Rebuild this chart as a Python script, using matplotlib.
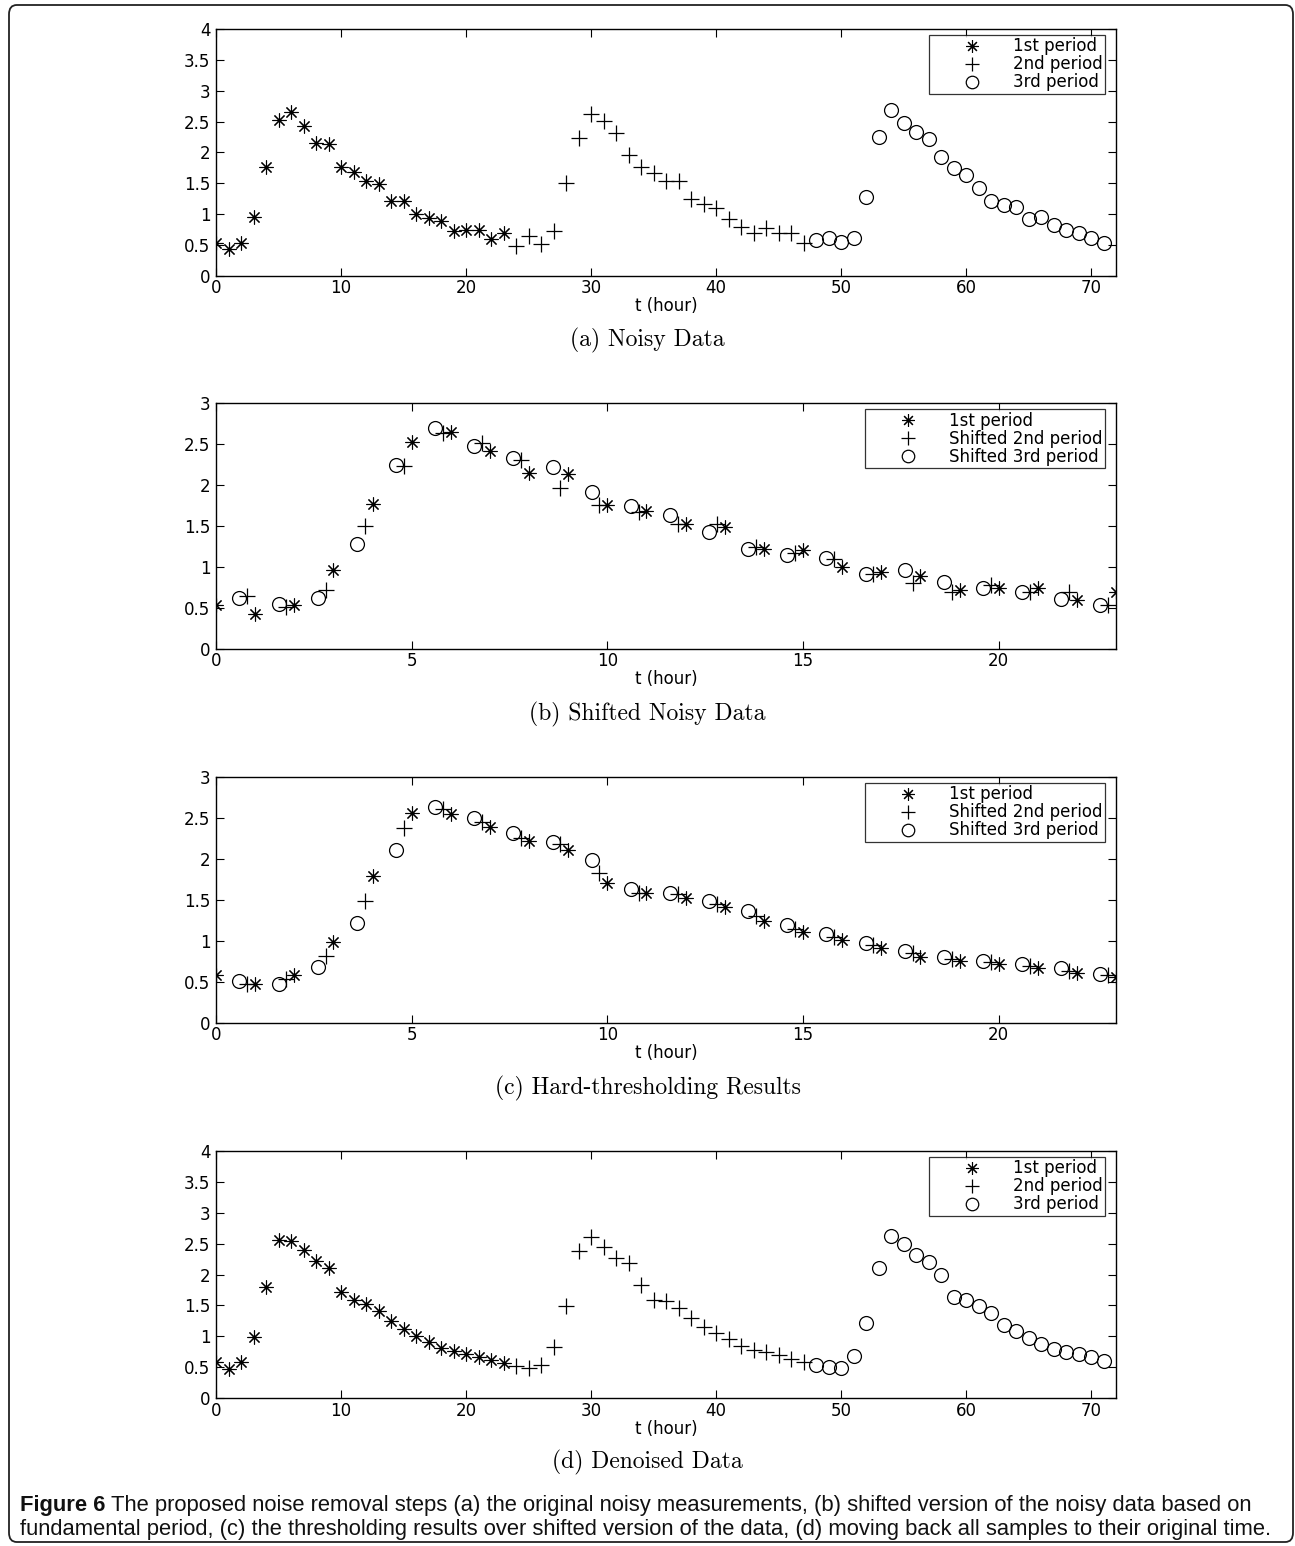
import numpy as np
import matplotlib.pyplot as plt
from matplotlib.patches import FancyBboxPatch

noisy_p1 = [0.54, 0.43, 0.54, 0.96, 1.77, 2.52, 2.65, 2.42, 2.15, 2.13, 1.76, 1.68,
            1.53, 1.49, 1.22, 1.21, 1.00, 0.94, 0.89, 0.72, 0.74, 0.75, 0.60, 0.70]
noisy_p2 = [0.48, 0.65, 0.51, 0.72, 1.50, 2.23, 2.63, 2.51, 2.31, 1.96, 1.76, 1.67,
            1.53, 1.53, 1.25, 1.17, 1.10, 0.92, 0.80, 0.70, 0.78, 0.69, 0.70, 0.54]
noisy_p3 = [0.58, 0.62, 0.55, 0.62, 1.28, 2.25, 2.69, 2.47, 2.33, 2.22, 1.92, 1.74,
            1.64, 1.43, 1.22, 1.15, 1.11, 0.92, 0.96, 0.82, 0.74, 0.70, 0.61, 0.54]

# hard-thresholded / denoised values (panels c and d)
clean_p1 = [0.58, 0.47, 0.58, 0.99, 1.79, 2.56, 2.55, 2.39, 2.22, 2.11, 1.71, 1.59,
            1.53, 1.41, 1.24, 1.11, 1.01, 0.91, 0.81, 0.76, 0.72, 0.67, 0.61, 0.56]
clean_p2 = [0.52, 0.48, 0.54, 0.82, 1.49, 2.38, 2.61, 2.45, 2.26, 2.18, 1.83, 1.59,
            1.57, 1.45, 1.30, 1.15, 1.05, 0.95, 0.85, 0.78, 0.74, 0.69, 0.63, 0.58]
clean_p3 = [0.54, 0.51, 0.48, 0.68, 1.22, 2.11, 2.63, 2.50, 2.32, 2.21, 1.99, 1.63,
            1.58, 1.49, 1.37, 1.19, 1.08, 0.98, 0.88, 0.80, 0.75, 0.72, 0.67, 0.60]

hours = np.arange(24)
period = 24.2  # fundamental period in hours

labels_orig = ['1st period', '2nd period', '3rd period']
labels_shift = ['1st period', 'Shifted 2nd period', 'Shifted 3rd period']
subcaptions = ['(a) Noisy Data', '(b) Shifted Noisy Data',
               '(c) Hard-thresholding Results', '(d) Denoised Data']

plt.rcParams['font.family'] = ['DejaVu Sans']

ast = (8, 2, 0)
mk = [dict(marker=ast, ms=10, mew=0.8), dict(marker='+', ms=11, mew=0.9),
      dict(marker='o', ms=10, mew=0.9, mfc='none')]
FS = 12


def setup(ax, xmax, ymax, xticks):
    ax.set_xlim(0, xmax)
    ax.set_ylim(0, ymax)
    ax.set_xticks(xticks)
    ax.set_yticks(np.arange(0, ymax + 0.01, 0.5))
    ax.yaxis.set_major_formatter(plt.FuncFormatter(lambda v, p: ('%g' % v)))
    ax.tick_params(direction='in', top=True, right=True, length=6, width=0.8,
                   labelsize=FS)
    ax.tick_params(axis='x', pad=2.5)
    ax.tick_params(axis='y', pad=4)
    for s in ax.spines.values():
        s.set_linewidth(1.0)
    ax.set_xlabel('t (hour)', fontsize=FS, labelpad=0)


def legend(ax, labels):
    lg = ax.legend(labels, loc='upper right', bbox_to_anchor=(1 - 11 / 900, 1 - 6 / 247),
                   fontsize=FS, frameon=True, fancybox=False, edgecolor='black',
                   borderpad=0.15, labelspacing=0.0, handletextpad=0.0,
                   handlelength=4.9, borderaxespad=0.0, markerscale=0.9)
    lg.get_frame().set_linewidth(0.9)


fig = plt.figure(figsize=(12.95, 15.46), dpi=100)
bottoms = [0.8215, 0.5802, 0.3383, 0.0957]
heights = [0.1598, 0.1591, 0.1591, 0.1598]
axes = [fig.add_axes([0.1668, b, 0.695, h]) for b, h in zip(bottoms, heights)]

# (a) and (d): original time axis
for ax, vals in [(axes[0], (noisy_p1, noisy_p2, noisy_p3)),
                 (axes[3], (clean_p1, clean_p2, clean_p3))]:
    for k in range(3):
        ax.plot(hours + 24 * k, vals[k], ls='none', color='black', **mk[k])
    setup(ax, 72, 4, [0, 10, 20, 30, 40, 50, 60, 70])
    legend(ax, labels_orig)

# (b) and (c): periods shifted onto the first one
for ax, vals in [(axes[1], (noisy_p1, noisy_p2, noisy_p3)),
                 (axes[2], (clean_p1, clean_p2, clean_p3))]:
    for k in range(3):
        ax.plot(hours + 24 * k - period * k, vals[k], ls='none', color='black', **mk[k])
    setup(ax, 23, 3, [0, 5, 10, 15, 20])
    legend(ax, labels_shift)

cap_y = [340, 714, 1088, 1462]
for y, s in zip(cap_y, subcaptions):
    fig.text(0.5, 1 - y / 1546, s, ha='center', va='center', fontsize=17,
             family=['cmr10', 'DejaVu Serif'])

# caption
cap_font = ['Liberation Sans', 'DejaVu Sans']
cfs = 15.8
bold = fig.text(20 / 1295, 1 - 1505 / 1546, 'Figure 6', fontsize=cfs, weight='bold',
                color='#111111', va='center', family=cap_font)
r = fig.canvas.get_renderer()
bb = bold.get_window_extent(r)
fig.text(bb.x1 / 1295 + 0.004, 1 - 1505 / 1546,
         'The proposed noise removal steps (a) the original noisy measurements, '
         '(b) shifted version of the noisy data based on',
         fontsize=cfs, color='#111111', va='center', family=cap_font)
fig.text(20 / 1295, 1 - 1529 / 1546,
         'fundamental period, (c) the thresholding results over shifted version of the data, '
         '(d) moving back all samples to their original time.',
         fontsize=cfs, color='#111111', va='center', family=cap_font)

frame = FancyBboxPatch((9 / 1295, 4 / 1546), 1284 / 1295, 1537 / 1546,
                       boxstyle='round,pad=0,rounding_size=0.006',
                       transform=fig.transFigure, fill=False, lw=1.3, ec='#222222')
fig.patches.append(frame)

fig.savefig('out.png', dpi=100)
